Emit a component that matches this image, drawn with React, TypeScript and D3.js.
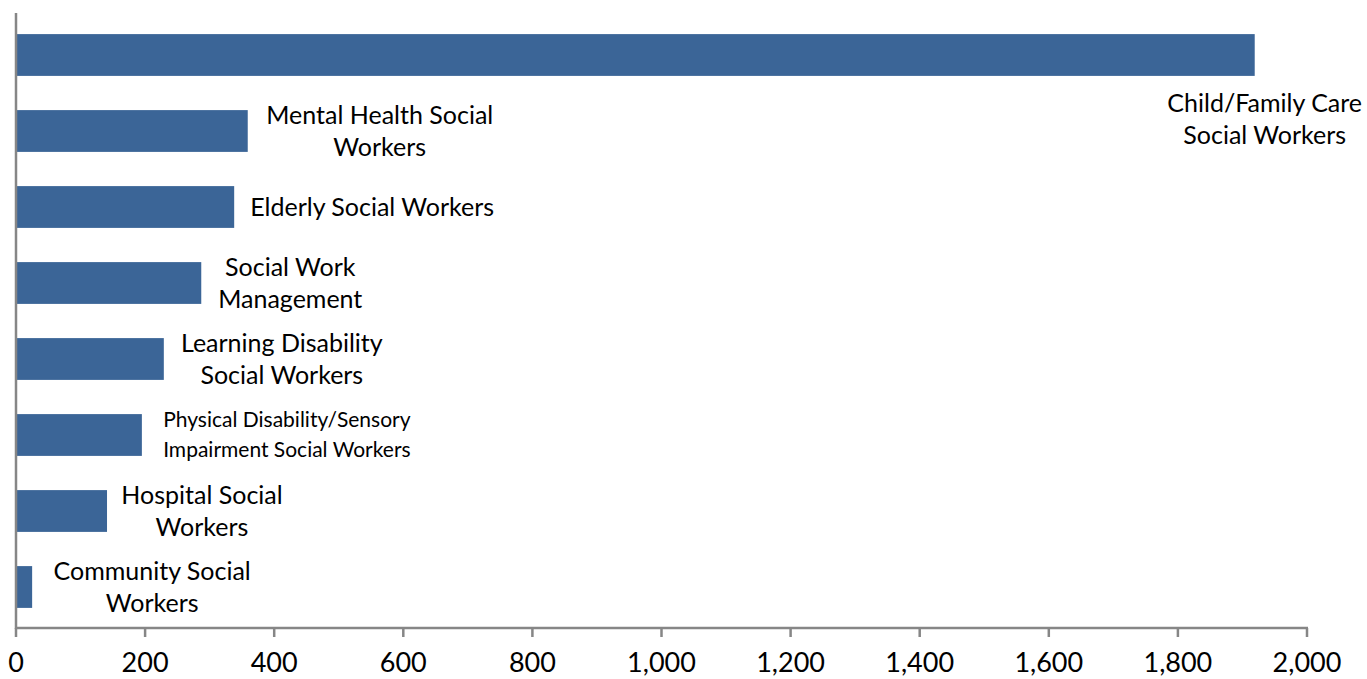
import React from "react";
import * as d3 from "d3";

const categories = [
  "Child/Family Care Social Workers",
  "Mental Health Social Workers",
  "Elderly Social Workers",
  "Social Work Management",
  "Learning Disability Social Workers",
  "Physical Disability/Sensory Impairment Social Workers",
  "Hospital Social Workers",
  "Community Social Workers",
];
const values = [1919, 359, 338, 287, 229, 195, 141, 25];
const labelLines = [
  ["Child/Family Care", "Social Workers"],
  ["Mental Health Social", "Workers"],
  ["Elderly Social Workers"],
  ["Social Work", "Management"],
  ["Learning Disability", "Social Workers"],
  ["Physical Disability/Sensory", "Impairment Social Workers"],
  ["Hospital Social", "Workers"],
  ["Community Social", "Workers"],
];
const xTicks = [0, 200, 400, 600, 800, 1000, 1200, 1400, 1600, 1800, 2000];

// layout-only: label centre offset from bar end, vertical shift, font size
const labelDx = [10, 132, 138, 89, 118, 145, 95, 120];
const labelDy = [64, 0, 0, 0, 0, 0, 0, 0];
const labelSize = [25, 25, 25, 25, 25, 21, 25, 25];

const W = 1367;
const H = 679;
const FONT = "Lato, 'Open Sans', sans-serif";

export default function App() {
  const x = d3.scaleLinear().domain([0, 2000]).range([16, 1307]);
  const y = d3
    .scaleBand<string>()
    .domain(categories)
    .range([17, 625])
    .paddingInner(0.45)
    .paddingOuter(0.225);
  const axisY = 628;
  const grey = "#868686";

  return (
    <svg
      width={W}
      height={H}
      style={{ position: "absolute", left: 0, top: 0, background: "#fff" }}
      fontFamily={FONT}
    >
      {categories.map((c, i) => (
        <rect
          key={c}
          x={x(0)}
          y={y(c)!}
          width={x(values[i]) - x(0)}
          height={y.bandwidth()}
          fill="#3B6597"
        />
      ))}
      {/* y axis */}
      <line x1={x(0)} x2={x(0)} y1={13} y2={axisY + 1} stroke={grey} strokeWidth={2.5} />
      {/* x axis */}
      <line x1={x(0) - 1} x2={x(2000) + 1} y1={axisY} y2={axisY} stroke={grey} strokeWidth={2.5} />
      {xTicks.map((t) => (
        <g key={t}>
          <line x1={x(t)} x2={x(t)} y1={axisY} y2={axisY + 9} stroke={grey} strokeWidth={2.5} />
          <text x={x(t)} y={672} textAnchor="middle" fontSize={27} fill="#000">
            {d3.format(",")(t)}
          </text>
        </g>
      ))}
      {categories.map((c, i) => {
        const lines = labelLines[i];
        const fs = labelSize[i];
        const lh = fs < 23 ? 30 : 32;
        const cx = x(values[i]) + labelDx[i];
        const cy = y(c)! + y.bandwidth() / 2 + labelDy[i];
        const startY = cy - ((lines.length - 1) * lh) / 2;
        return (
          <text key={c} textAnchor="middle" fontSize={fs} fill="#000">
            {lines.map((l, j) => (
              <tspan key={j} x={cx} y={startY + j * lh} dy="0.35em">
                {l}
              </tspan>
            ))}
          </text>
        );
      })}
    </svg>
  );
}
